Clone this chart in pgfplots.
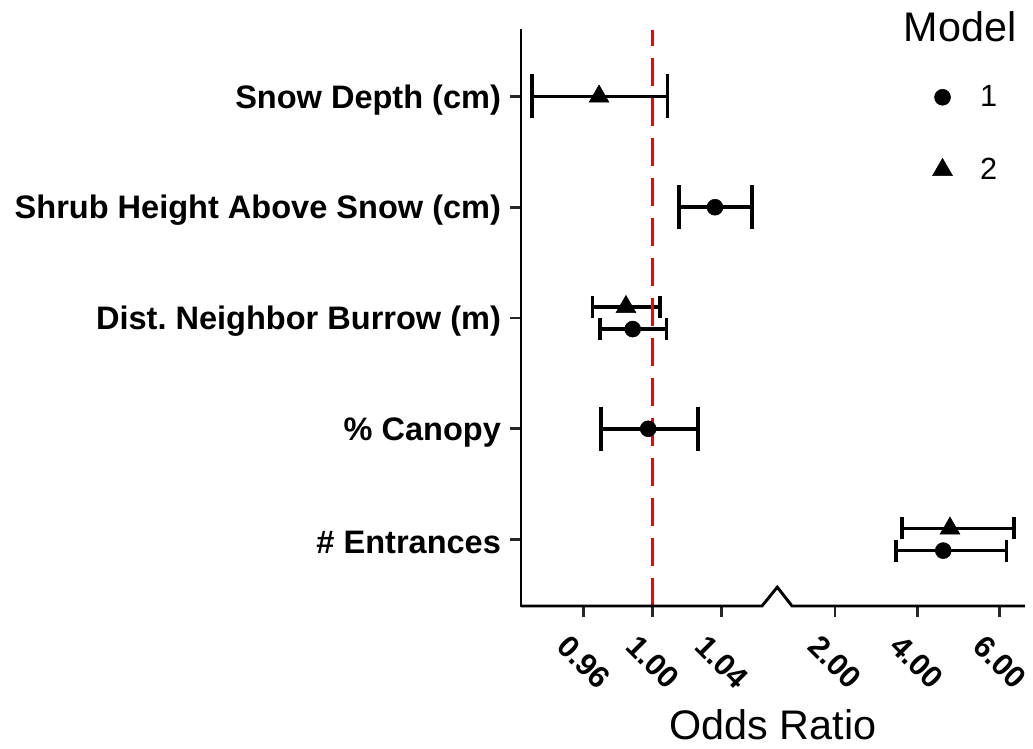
\documentclass[border=0pt]{standalone}
\usepackage{pgfplots}
\pgfplotsset{compat=1.18}
\usepackage{pgfplotstable}
\usepackage{fontspec}
\setmainfont{Liberation Sans}

% Odds ratios with 95% confidence limits; y is the row (5 = top), with dodge
\pgfplotstableread{
y    or      lo      hi
4    1.0361  1.0152  1.0577
2    0.9974  0.9699  1.0261
}\modelonesingle
\pgfplotstableread{
y    or      lo      hi
2.9  0.9884  0.9695  1.0081
0.9  4.630   3.482   6.170
}\modelonedodge
\pgfplotstableread{
y    or      lo      hi
5    0.9689  0.9302  1.0087
}\modeltwosingle
\pgfplotstableread{
y    or      lo      hi
3.1  0.9845  0.9650  1.0042
1.1  4.793   3.627   6.348
}\modeltwododge

% Broken odds-ratio scale: fine scale near 1, coarse scale beyond the break
\newcommand{\brk}[1]{(((#1)<1.5) ? (652.7+((#1)-1)*1725) : (835+((#1)-2)*41.17))}

\pgfplotsset{
  ci/.style={
    error bars/.cd, x dir=both, x explicit, error mark=-,
    error bar style={line width=2.7pt, black, line cap=butt},
    error mark options={mark size=#1, line width=2.7pt, black, rotate=90}},
}

\begin{document}
\frenchspacing
\begin{tikzpicture}
\begin{axis}[
  at={(0,0)}, anchor=south west,
  scale only axis, width=378pt, height=432pt,
  xmin=521, xmax=1025, ymin=0.4, ymax=5.6,
  clip=false,
  axis x line*=bottom, axis y line*=left,
  x axis line style={draw=none},
  y axis line style={line width=2.2pt, line cap=rect},
  tick align=outside,
  major tick length=8pt,
  every tick/.style={line width=2pt, black!85},
  xtick={583.7,652.7,721.7,835,917.34,999.68},
  xticklabels={0.96,1.00,1.04,2.00,4.00,6.00},
  ytick={1,2,3,4,5},
  yticklabels={\# Entrances,\% Canopy,Dist. Neighbor Burrow (m),Shrub Height Above Snow (cm),Snow Depth (cm)},
  yticklabel style={font=\fontsize{24.4}{28}\selectfont\bfseries, text=black, xshift=-3.5pt, yshift=-2.5pt},
  xticklabel style={font=\fontsize{23}{26}\selectfont\bfseries, yshift=-34pt, rotate=-45, anchor=center, text=black},
  xlabel={Odds Ratio},
  xlabel style={font=\fontsize{31}{36}\selectfont, inner sep=0pt, at={(axis description cs:0.5,-0.2326)}, anchor=base},
  legend style={draw=none, fill=none, at={(axis description cs:0.793,0.913)}, anchor=north west,
    font=\fontsize{23}{27}\selectfont, row sep=33pt},
  legend cell align=left,
  legend image code/.code={\path (0pt,0pt) (39pt,0pt);\draw[mark repeat=2,mark phase=2,#1] plot coordinates {(0pt,0pt) (13pt,0pt) (39pt,0pt)};},
]
% model 1
\addplot[only marks, mark=*, mark size=6pt, black, ci=16.5pt]
  table[x expr={\brk{\thisrow{or}}}, y=y,
        x error plus expr={\brk{\thisrow{hi}}-\brk{\thisrow{or}}},
        x error minus expr={\brk{\thisrow{or}}-\brk{\thisrow{lo}}}] {\modelonesingle};
\addlegendentry{1}
% model 2
\addplot[only marks, mark=triangle*, mark size=8.6pt, black, ci=16.5pt]
  table[x expr={\brk{\thisrow{or}}}, y=y,
        x error plus expr={\brk{\thisrow{hi}}-\brk{\thisrow{or}}},
        x error minus expr={\brk{\thisrow{or}}-\brk{\thisrow{lo}}}] {\modeltwosingle};
\addlegendentry{2}
% dodged rows, narrower caps
\addplot[forget plot, only marks, mark=*, mark size=6pt, black, ci=8.25pt]
  table[x expr={\brk{\thisrow{or}}}, y=y,
        x error plus expr={\brk{\thisrow{hi}}-\brk{\thisrow{or}}},
        x error minus expr={\brk{\thisrow{or}}-\brk{\thisrow{lo}}}] {\modelonedodge};
\addplot[forget plot, only marks, mark=triangle*, mark size=8.6pt, black, ci=8.25pt]
  table[x expr={\brk{\thisrow{or}}}, y=y,
        x error plus expr={\brk{\thisrow{hi}}-\brk{\thisrow{or}}},
        x error minus expr={\brk{\thisrow{or}}-\brk{\thisrow{lo}}}] {\modeltwododge};
% reference line at OR = 1
\addplot[forget plot, red, line width=2.3pt, dash pattern=on 21pt off 9pt]
  coordinates {(652.7,0.4) (652.7,5.6)};
% x axis line with break mark
\addplot[forget plot, black, line width=2.2pt, line join=miter]
  coordinates {(521,0.4) (762,0.4) (777.3,0.57) (792,0.4) (1025,0.4)};
\node[anchor=base, font=\fontsize{31}{36}\selectfont] at (axis description cs:0.8710,0.9793) {Model};
\end{axis}
\pgfresetboundingbox
\path[use as bounding box] (-390.75pt,-107.25pt) rectangle (384pt,454.5pt);
\end{tikzpicture}
\end{document}
